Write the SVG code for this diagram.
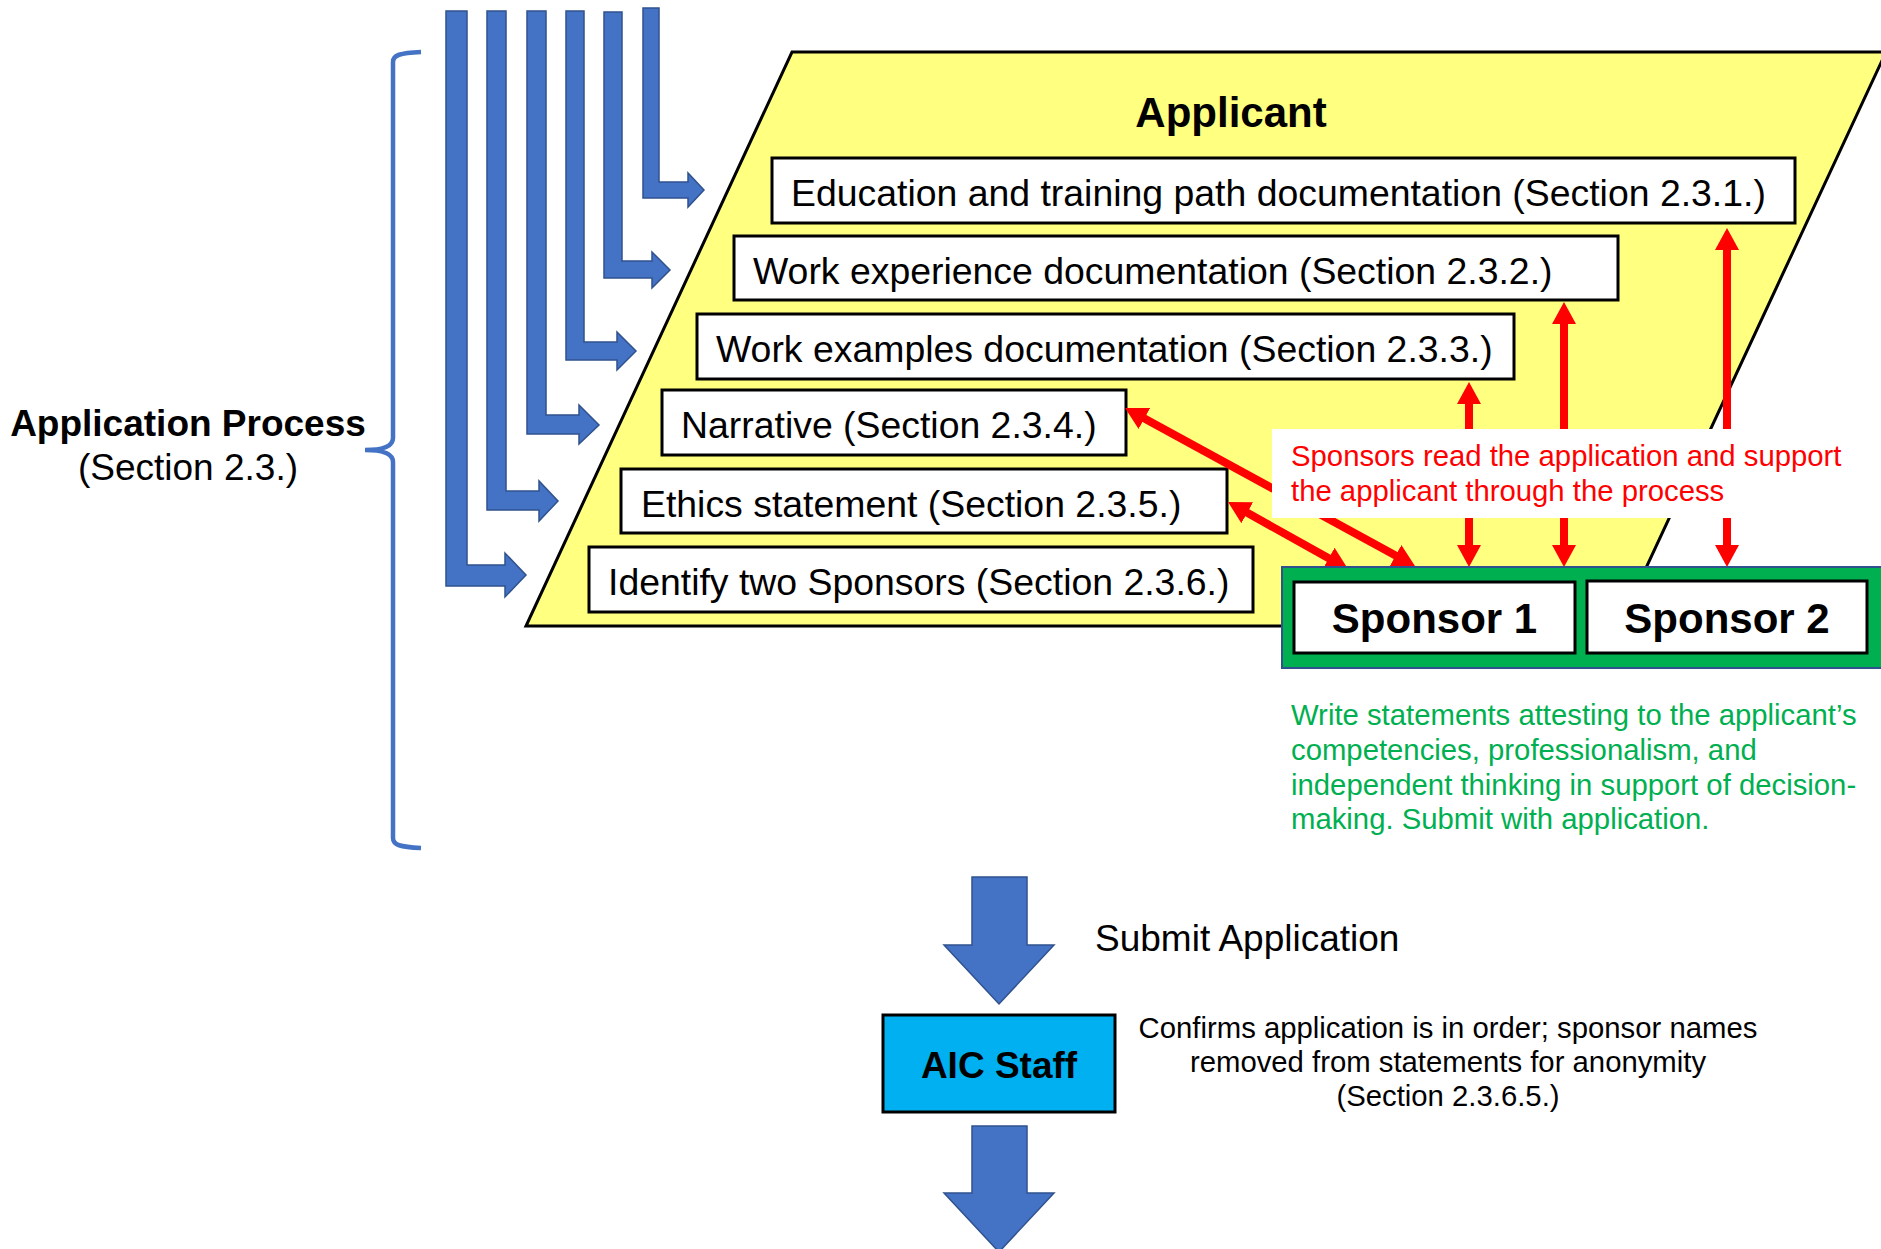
<svg xmlns="http://www.w3.org/2000/svg" width="1881" height="1249" viewBox="0 0 1881 1249">
<style>
text{font-family:"Liberation Sans",Arial,sans-serif;fill:#000}
.box{fill:#fff;stroke:#000;stroke-width:3}
.bt{font-size:37.4px}
.blue{fill:#4472C4;stroke:#2F528F;stroke-width:1.5}
.red{stroke:#FF0000;stroke-width:8;fill:none}
.rt{font-size:29.3px;fill:#FF0000}
.gt{font-size:29.3px;fill:#00B050}
.bold{font-weight:bold}
</style>
<defs>
<marker id="rh" markerUnits="userSpaceOnUse" markerWidth="24" markerHeight="26" refX="2" refY="12" orient="auto-start-reverse" viewBox="0 0 24 24">
<path d="M0,0 L22,12 L0,24 z" fill="#FF0000"/>
</marker>
</defs>
<rect width="1881" height="1249" fill="#fff"/>

<g id="applicant">
<polygon points="792,52 1886,52 1619,626 526,626" fill="#FFFF80" stroke="#000" stroke-width="3"/>
<text x="1231" y="127" font-size="42" class="bold" text-anchor="middle">Applicant</text>
</g>

<g id="box1"><rect class="box" x="772" y="158" width="1023" height="65"/><text class="bt" x="791" y="206">Education and training path documentation (Section 2.3.1.)</text></g>
<g id="box2"><rect class="box" x="734" y="236" width="884" height="64"/><text class="bt" x="753" y="284">Work experience documentation (Section 2.3.2.)</text></g>
<g id="box3"><rect class="box" x="697" y="314" width="817" height="65"/><text class="bt" x="716" y="362">Work examples documentation (Section 2.3.3.)</text></g>
<g id="box4"><rect class="box" x="662" y="390" width="464" height="65"/><text class="bt" x="681" y="438">Narrative (Section 2.3.4.)</text></g>
<g id="box5"><rect class="box" x="621" y="469" width="606" height="64"/><text class="bt" x="641" y="517">Ethics statement (Section 2.3.5.)</text></g>
<g id="box6"><rect class="box" x="589" y="547" width="664" height="65"/><text class="bt" x="608" y="595">Identify two Sponsors (Section 2.3.6.)</text></g>

<g id="process-label">
<path d="M421,52 C400,53 393,55 393,62 L393,438 C393,446 385,450 365,450 C385,450 393,454 393,462 L393,838 C393,845 400,847 421,848" fill="none" stroke="#4472C4" stroke-width="4.5"/>
<text x="188" y="436" font-size="37" class="bold" text-anchor="middle">Application Process</text>
<text x="188" y="480" font-size="37" text-anchor="middle">(Section 2.3.)</text>
</g>

<g id="connectors">
<path class="blue" d="M446,11 L467,11 L467,565 L505,565 L505,553 L526,575 L505,597 L505,586 L446,586 Z"/>
<path class="blue" d="M487,11 L506,11 L506,491 L539,491 L539,481 L558,501 L539,521 L539,510 L487,510 Z"/>
<path class="blue" d="M527,11 L546,11 L546,415 L579,415 L579,405 L599,425 L579,444 L579,434 L527,434 Z"/>
<path class="blue" d="M566,11 L584,11 L584,342 L617,342 L617,332 L636,351 L617,370 L617,360 L566,360 Z"/>
<path class="blue" d="M604,12 L622,12 L622,261 L652,261 L652,252 L670,270 L652,288 L652,278 L604,278 Z"/>
<path class="blue" d="M643,8 L659,8 L659,182 L688,182 L688,173 L704,190 L688,207 L688,198 L643,198 Z"/>

<line class="red" x1="1142.6" y1="417.6" x2="1397.4" y2="556.4" marker-start="url(#rh)" marker-end="url(#rh)"/>
<line class="red" x1="1245.5" y1="511.8" x2="1330.5" y2="559.2" marker-start="url(#rh)" marker-end="url(#rh)"/>
<line class="red" x1="1469" y1="402" x2="1469" y2="547" marker-start="url(#rh)" marker-end="url(#rh)"/>
<line class="red" x1="1564" y1="322" x2="1564" y2="547" marker-start="url(#rh)" marker-end="url(#rh)"/>
<line class="red" x1="1727" y1="248" x2="1727" y2="547" marker-start="url(#rh)" marker-end="url(#rh)"/>

<path class="blue" d="M972,877 L1027,877 L1027,945 L1054,945 L999,1004 L944,945 L972,945 Z"/>
<path class="blue" d="M972,1126 L1027,1126 L1027,1193 L1054,1193 L999,1252 L944,1193 L972,1193 Z"/>
</g>

<g id="sponsor-note">
<rect x="1272" y="429" width="462" height="89" fill="#fff"/>
<text class="rt" x="1291" y="466">Sponsors read the application and support</text>
<text class="rt" x="1291" y="501">the applicant through the process</text>
</g>

<g id="sponsors">
<rect x="1282" y="567" width="610" height="101" fill="#00B050" stroke="#2F528F" stroke-width="2"/>
<g id="sponsor1"><rect class="box" x="1294" y="582" width="281" height="71" stroke-width="3.5"/><text x="1434.5" y="633" font-size="42" class="bold" text-anchor="middle">Sponsor 1</text></g>
<g id="sponsor2"><rect class="box" x="1587" y="581" width="280" height="72" stroke-width="3.5"/><text x="1727" y="633" font-size="42" class="bold" text-anchor="middle">Sponsor 2</text></g>
</g>

<g id="sponsor-statements">
<text class="gt" x="1291" y="725">Write statements attesting to the applicant’s</text>
<text class="gt" x="1291" y="760">competencies, professionalism, and</text>
<text class="gt" x="1291" y="795">independent thinking in support of decision-</text>
<text class="gt" x="1291" y="829">making. Submit with application.</text>
</g>

<g id="submit-label"><text x="1095" y="951" font-size="37">Submit Application</text></g>

<g id="aic-staff">
<rect x="883" y="1015" width="232" height="97" fill="#00B0F0" stroke="#000" stroke-width="3"/>
<text x="999" y="1078" font-size="37" class="bold" text-anchor="middle">AIC Staff</text>
</g>

<g id="aic-note">
<text x="1448" y="1038" font-size="29.3" text-anchor="middle">Confirms application is in order; sponsor names</text>
<text x="1448" y="1072" font-size="29.3" text-anchor="middle">removed from statements for anonymity</text>
<text x="1448" y="1106" font-size="29.3" text-anchor="middle">(Section 2.3.6.5.)</text>
</g>
</svg>
